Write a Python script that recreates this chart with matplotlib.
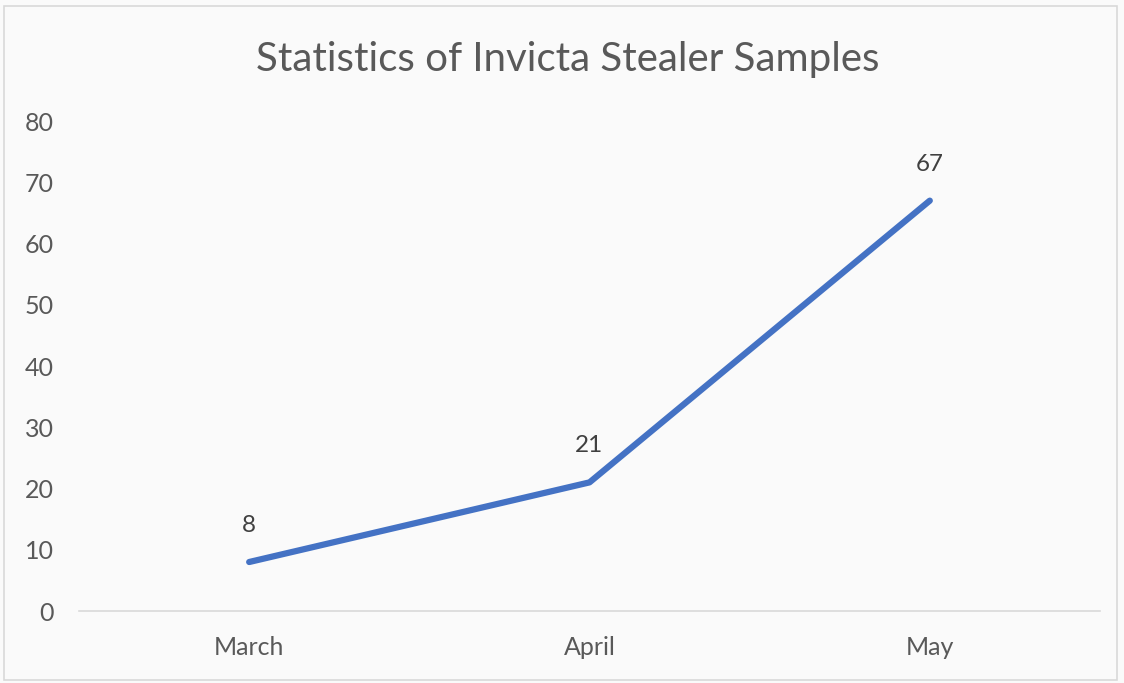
import matplotlib.pyplot as plt

months = ["March", "April", "May"]
samples = [8, 21, 67]
y_ticks = [0, 10, 20, 30, 40, 50, 60, 70, 80]

plt.rcParams['font.family'] = ['Lato', 'DejaVu Sans']

fig = plt.figure(figsize=(11.24, 6.83), dpi=100, facecolor='#fafafa')
ax = fig.add_axes([0.0703, 0.1054, 0.9083, 0.7174])
ax.set_facecolor('#fafafa')

x = range(len(months))
ax.plot(x, samples, color='#4472C4', linewidth=4.5, solid_capstyle='round')
for xi, v in zip(x, samples):
    ax.annotate(str(v), (xi, v), xytext=(0, 26), textcoords='offset pixels',
                ha='center', va='bottom', fontsize=17.5, color='#404040')

ax.set_xlim(-0.5, 2.5)
ax.set_ylim(0, 80)
ax.set_xticks(list(x))
ax.set_xticklabels(months)
ax.set_yticks(y_ticks)
ax.tick_params(axis='both', length=0, labelsize=18, labelcolor='#595959')
ax.tick_params(axis='x', pad=18)
ax.tick_params(axis='y', pad=18)
for s in ['top', 'right', 'left']:
    ax.spines[s].set_visible(False)
ax.spines['bottom'].set_color('#d9d9d9')
ax.spines['bottom'].set_linewidth(1.2)

fig.text(0.505, 0.913, "Statistics of Invicta Stealer Samples", ha='center', va='center',
         fontsize=29, color='#595959')

# chart border
fig.patches.append(plt.Rectangle((0.004, 0.004), 0.99, 0.987, transform=fig.transFigure,
                                 fill=False, edgecolor='#d9d9d9', linewidth=1.2))

fig.savefig('out.png', dpi=100, facecolor=fig.get_facecolor())
